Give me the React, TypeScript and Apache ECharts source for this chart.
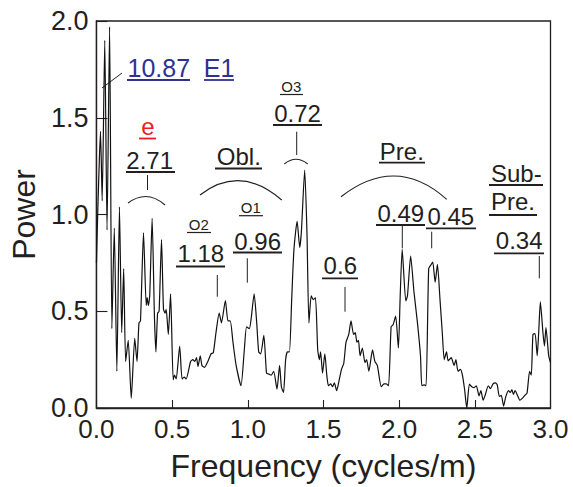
import React, { useEffect, useRef } from "react";
import * as echarts from "echarts";

const FONT = '"Liberation Sans", Arial, Helvetica, sans-serif';
const INK = "#231f20";
const BLUE = "#2e3192";
const RED = "#ed1c24";

const xTicks = ["0.0", "0.5", "1.0", "1.5", "2.0", "2.5", "3.0"];
const yTicks = ["0.0", "0.5", "1.0", "1.5", "2.0"];

const freq = [
  0.0, 0.01, 0.02, 0.027, 0.038, 0.055, 0.07, 0.087, 0.102, 0.118, 0.135, 0.152, 0.167, 0.18, 0.193, 0.21, 0.23, 0.253,
  0.268, 0.281, 0.291, 0.311, 0.329, 0.335, 0.343, 0.352, 0.368, 0.383, 0.393, 0.404, 0.414, 0.43, 0.443, 0.454, 0.461,
  0.475, 0.49, 0.507, 0.516, 0.527, 0.55, 0.566, 0.58, 0.593, 0.622, 0.637, 0.65, 0.661, 0.671, 0.686, 0.697, 0.714,
  0.736, 0.757, 0.772, 0.79, 0.811, 0.826, 0.852, 0.869, 0.884, 0.902, 0.923, 0.955, 0.977, 0.992, 1.01, 1.022, 1.042,
  1.059, 1.072, 1.085, 1.106, 1.124, 1.14, 1.155, 1.171, 1.193, 1.21, 1.222, 1.236, 1.25, 1.262, 1.275, 1.29, 1.305,
  1.326, 1.343, 1.354, 1.376, 1.391, 1.404, 1.419, 1.432, 1.447, 1.462, 1.473, 1.481, 1.494, 1.509, 1.522, 1.533, 1.548,
  1.56, 1.572, 1.587, 1.6, 1.619, 1.634, 1.649, 1.667, 1.682, 1.699, 1.71, 1.721, 1.731, 1.742, 1.757, 1.774, 1.785, 1.8,
  1.824, 1.84, 1.856, 1.882, 1.9, 1.915, 1.93, 1.947, 1.96, 1.977, 1.995, 2.007, 2.02, 2.044, 2.055, 2.076, 2.098, 2.121,
  2.141, 2.15, 2.165, 2.178, 2.195, 2.21, 2.222, 2.238, 2.253, 2.27, 2.285, 2.298, 2.313, 2.324, 2.344, 2.363, 2.375,
  2.389, 2.405, 2.418, 2.432, 2.447, 2.464, 2.48, 2.495, 2.51, 2.528, 2.54, 2.555, 2.57, 2.589, 2.604, 2.62, 2.636, 2.648,
  2.662, 2.675, 2.69, 2.705, 2.723, 2.735, 2.745, 2.755, 2.766, 2.783, 2.798, 2.813, 2.83, 2.845, 2.862, 2.873, 2.884,
  2.898, 2.912, 2.922, 2.933, 2.95, 2.96, 2.97, 2.988, 3.0,
];

const power = [
  0.75, 1.05, 1.3, 1.43, 1.07, 1.9, 0.92, 1.97, 0.41, 0.93, 0.19, 1.04, 0.39, 0.72, 0.24, 0.35, 0.05, 0.36,
  0.24, 0.44, 0.45, 0.905, 0.53, 0.57, 0.53, 0.58, 0.98, 0.48, 0.29, 0.49, 0.5, 0.87, 0.51, 0.49, 0.51,
  0.38, 0.59, 0.146, 0.17, 0.15, 0.32, 0.15, 0.16, 0.15, 0.24, 0.25, 0.24, 0.26, 0.215, 0.27, 0.22, 0.21,
  0.24, 0.28, 0.285, 0.39, 0.49, 0.44, 0.555, 0.45, 0.45, 0.34, 0.22, 0.115, 0.3, 0.42, 0.41, 0.46, 0.59,
  0.44, 0.29, 0.28, 0.375, 0.18, 0.175, 0.17, 0.19, 0.098, 0.22, 0.11, 0.08, 0.25, 0.29, 0.29, 0.56, 0.82,
  0.965, 0.83, 0.91, 1.23, 0.905, 0.44, 0.58, 0.56, 0.57, 0.3, 0.25, 0.29, 0.18, 0.28, 0.17, 0.115, 0.125,
  0.11, 0.13, 0.09, 0.13, 0.2, 0.23, 0.34, 0.38, 0.45, 0.38, 0.39, 0.34, 0.35, 0.27, 0.31, 0.235, 0.25, 0.19,
  0.3, 0.24, 0.22, 0.11, 0.125, 0.125, 0.115, 0.42, 0.43, 0.475, 0.31, 0.58, 0.82, 0.553, 0.58, 0.785, 0.6, 0.44,
  0.27, 0.115, 0.12, 0.115, 0.72, 0.74, 0.754, 0.65, 0.742, 0.56, 0.39, 0.25, 0.29, 0.244, 0.26, 0.22, 0.25,
  0.19, 0.2, 0.17, 0.098, 0.0, 0.124, 0.11, 0.105, 0.115, 0.063, 0.09, 0.04, 0.07, 0.115, 0.1, 0.125, 0.13, 0.12,
  0.06, 0.065, 0.01, 0.06, 0.09, 0.08, 0.095, 0.07, 0.09, 0.063, 0.04, 0.05, 0.065, 0.077, 0.19, 0.17, 0.38,
  0.385, 0.27, 0.39, 0.548, 0.39, 0.32, 0.416, 0.27, 0.235,
];

function txt(text: string, cx: number, cy: number, size: number, color: string) {
  return {
    type: "text",
    x: cx,
    y: cy,
    silent: true,
    style: { text, fill: color, fontSize: size, fontFamily: FONT, textAlign: "center", textVerticalAlign: "middle" },
  };
}
function ln(x1: number, y1: number, x2: number, y2: number, w: number, color: string = INK) {
  return { type: "line", silent: true, shape: { x1, y1, x2, y2 }, style: { stroke: color, lineWidth: w } };
}
function arc(x1: number, y1: number, cpx: number, cpy: number, x2: number, y2: number) {
  return {
    type: "bezierCurve",
    silent: true,
    shape: { x1, y1, x2, y2, cpx1: cpx, cpy1: cpy },
    style: { stroke: INK, lineWidth: 1.1, fill: null },
  };
}

export default function App() {
  const ref = useRef<HTMLDivElement>(null);
  useEffect(() => {
    document.body.style.margin = "0";
    const chart = echarts.init(ref.current!, null, { renderer: "svg" });
    const data = freq.map((f, i) => [f, power[i]]);
    const U = 1.8;
    chart.setOption({
      animation: false,
      backgroundColor: "#ffffff",
      grid: { left: 85.5, top: 21, right: 22.5, bottom: 78, show: true, borderColor: INK, borderWidth: 1.3 },
      xAxis: {
        type: "value",
        min: 0,
        max: 3,
        interval: 0.5,
        name: "Frequency (cycles/m)",
        nameLocation: "middle",
        nameGap: 42,
        nameTextStyle: { fontSize: 32, fontFamily: FONT, color: INK },
        axisLine: { show: true, lineStyle: { color: INK, width: 1.3 } },
        axisTick: { show: true, inside: true, length: 8, lineStyle: { color: INK, width: 1.1 } },
        axisLabel: { fontSize: 26, fontFamily: FONT, color: INK, margin: 8, formatter: (v: number) => xTicks[Math.round(v * 2)] },
        splitLine: { show: false },
      },
      yAxis: {
        type: "value",
        min: 0,
        max: 2,
        interval: 0.5,
        name: "Power",
        nameLocation: "middle",
        nameGap: 48,
        nameRotate: 90,
        nameTextStyle: { fontSize: 32, fontFamily: FONT, color: INK },
        axisLine: { show: true, lineStyle: { color: INK, width: 1.3 } },
        axisTick: { show: true, inside: true, length: 11, lineStyle: { color: INK, width: 1.1 } },
        axisLabel: { fontSize: 27, fontFamily: FONT, color: INK, margin: 8, formatter: (v: number) => yTicks[Math.round(v * 2)] },
        splitLine: { show: false },
      },
      series: [
        {
          type: "line",
          data,
          showSymbol: false,
          smooth: 0.2,
          lineStyle: { color: "#111111", width: 1.2 },
        },
      ],
      graphic: [
        txt("10.87", 158.8, 68.3, 25, BLUE),
        ln(127, 80, 190, 80, U, BLUE),
        txt("E1", 219, 68.3, 25, BLUE),
        ln(204, 80, 234, 80, U, BLUE),
        ln(102, 88, 122, 73, 1),
        txt("e", 148, 126.5, 24, RED),
        ln(139, 138.5, 156, 138.5, U, RED),
        txt("2.71", 149.7, 160, 24, INK),
        ln(126, 172, 175, 172, U),
        ln(147.5, 175, 147.5, 190, 1),
        arc(128, 203, 147, 189, 165, 205),
        txt("Obl.", 238.8, 156, 24, INK),
        ln(215, 168.5, 262, 168.5, U),
        arc(200, 195, 240, 164, 281.7, 200),
        txt("O3", 291.3, 86.7, 15, INK),
        ln(280, 94.5, 303, 94.5, 1.2),
        txt("0.72", 297.5, 113.3, 24, INK),
        ln(273, 125, 322, 125, U),
        ln(296.7, 131.7, 296.7, 155, 1),
        arc(284.3, 164, 296, 154.6, 307.7, 164),
        txt("O2", 198.8, 224, 15, INK),
        ln(187, 232.5, 211, 232.5, 1.2),
        txt("1.18", 200.8, 253.8, 24, INK),
        ln(176, 266.5, 225, 266.5, U),
        ln(217.3, 275, 217.3, 296.7, 1),
        txt("O1", 250.8, 207.5, 15, INK),
        ln(239, 215.7, 263, 215.7, 1.2),
        txt("0.96", 257.7, 241.7, 24, INK),
        ln(233, 252.5, 282, 252.5, U),
        ln(247.3, 258.3, 247.3, 282.7, 1),
        txt("Pre.", 401.8, 151.3, 24, INK),
        ln(379, 162.7, 425, 162.7, U),
        arc(341, 196.7, 396, 154, 446.7, 199.3),
        txt("0.49", 400.8, 213.3, 24, INK),
        ln(376, 225, 425, 225, U),
        txt("0.45", 450.8, 216.7, 24, INK),
        ln(426, 228.3, 476, 228.3, U),
        ln(402.3, 226, 402.3, 248.3, 1),
        ln(431.7, 231.7, 431.7, 248.3, 1),
        txt("Sub-", 516.3, 173.3, 24, INK),
        ln(489, 185, 543, 185, U),
        txt("Pre.", 513, 201.7, 24, INK),
        ln(489, 215, 537, 215, U),
        txt("0.34", 519.2, 240.8, 24, INK),
        ln(494, 253.3, 544, 253.3, U),
        ln(539.3, 256, 539.3, 278.3, 1),
        txt("0.6", 340.3, 265.8, 24, INK),
        ln(322, 278.3, 358, 278.3, U),
        ln(345, 287, 345, 311.7, 1),
      ],
    });
    return () => chart.dispose();
  }, []);
  return <div ref={ref} style={{ width: 573, height: 487 }} />;
}
